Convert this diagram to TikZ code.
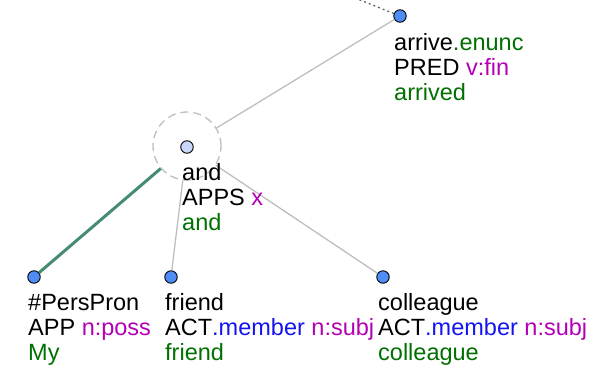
\documentclass[tikz,border=0pt]{standalone}
\usepackage{fontspec}
\setmainfont{Liberation Sans}
\definecolor{tgreen}{RGB}{0,112,0}
\definecolor{tmag}{RGB}{180,0,180}
\definecolor{tblue}{RGB}{20,20,240}
\definecolor{nodeblue}{RGB}{80,140,245}
\definecolor{nodelight}{RGB}{200,215,250}
\definecolor{edgegray}{RGB}{190,190,190}
\definecolor{edgegreen}{RGB}{70,140,112}
\tikzset{
  tnode/.style={circle,draw=black,line width=0.9pt,fill=nodeblue,minimum size=12.5pt,inner sep=0pt},
  ring/.style={circle,draw=edgegray,dashed,dash pattern=on 8pt off 5pt,line width=1.3pt,minimum size=68pt,inner sep=0pt},
  lbl/.style={anchor=base west,inner sep=0pt},
  edge/.style={draw=edgegray,line width=1.3pt},
  gedge/.style={draw=edgegreen,line width=3pt},
  upedge/.style={draw=black!65,line width=1.2pt,dash pattern=on 2pt off 3pt}
}
\begin{document}
\begin{tikzpicture}[x=1pt,y=-1pt,font=\fontsize{23.5}{25}\selectfont]
\useasboundingbox (0,0) rectangle (599,370);
% nodes
\node[tnode] (arrive) at (400,16) {};
\node[ring] (andring) at (187,146) {};
\node[tnode,fill=nodelight] (and) at (187,147) {};
\node[tnode] (pers) at (34,277) {};
\node[tnode] (friend) at (171,277) {};
\node[tnode] (coll) at (383,277) {};
\coordinate (up) at (340,-8);
% edges
\draw[upedge] (arrive) -- (up);
\draw[edge] (andring) -- (arrive);
\draw[edge] (andring) -- (friend);
\draw[edge] (andring) -- (coll);
\draw[gedge] (andring) -- (pers);
% labels
\node[lbl] (a1) at (394,50) {arrive\textcolor{tgreen}{.enunc}};
\node[lbl] (a2) at (394,75) {PRED \textcolor{tmag}{v:fin}};
\node[lbl] (a3) at (394,100) {\textcolor{tgreen}{arrived}};
\node[lbl] (b1) at (182,180) {and};
\node[lbl] (b2) at (182,205) {APPS \textcolor{tmag}{x}};
\node[lbl] (b3) at (182,230) {\textcolor{tgreen}{and}};
\node[lbl] (p1) at (28,310) {\#PersPron};
\node[lbl] (p2) at (28,335) {APP \textcolor{tmag}{n:poss}};
\node[lbl] (p3) at (28,360) {\textcolor{tgreen}{My}};
\node[lbl] (f1) at (165,310) {friend};
\node[lbl] (f2) at (165,335) {ACT\textcolor{tblue}{.member} \textcolor{tmag}{n:subj}};
\node[lbl] (f3) at (165,360) {\textcolor{tgreen}{friend}};
\node[lbl] (c1) at (378,310) {colleague};
\node[lbl] (c2) at (378,335) {ACT\textcolor{tblue}{.member} \textcolor{tmag}{n:subj}};
\node[lbl] (c3) at (378,360) {\textcolor{tgreen}{colleague}};
\end{tikzpicture}
\end{document}
